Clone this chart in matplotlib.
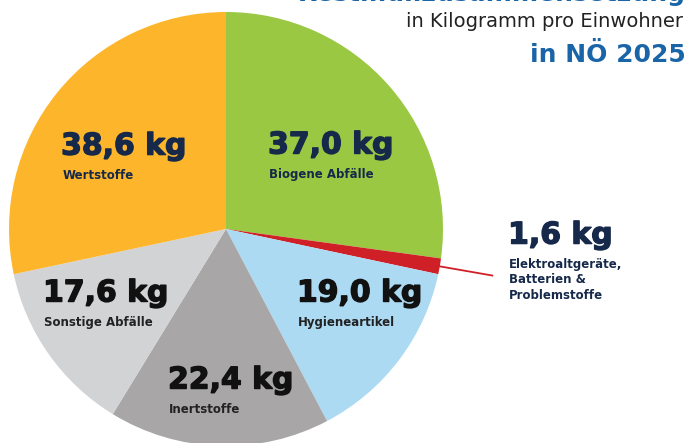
import numpy as np
import matplotlib.pyplot as plt
import matplotlib.patheffects as pe

# Restmüllzusammensetzung NÖ 2025, kg pro Einwohner
kategorien = ["Biogene Abfälle", "Elektroaltgeräte,\nBatterien &\nProblemstoffe",
              "Hygieneartikel", "Inertstoffe", "Sonstige Abfälle", "Wertstoffe"]
werte = [37.0, 1.6, 19.0, 22.4, 17.6, 38.6]
farben = ["#9bc843", "#cf2027", "#acdaf3", "#a8a6a7", "#d2d3d5", "#fdb62c"]

# Beschriftungsposition (links, Mitte der Zahl) in Datenkoordinaten
label_pos = [(0.194, 0.387), (1.30, -0.028), (0.327, -0.295),
             (-0.267, -0.696), (-0.843, -0.295), (-0.760, 0.382)]
label_farbe = ["#16294a", "#16294a", "#111111", "#111111", "#111111", "#16294a"]

fig = plt.figure(figsize=(6.91, 4.43), dpi=100)

# Torte: Mitte bei (226, 229) px, Radius 217 px
cx, cy, r = 226, 229, 217
W, H = 691, 443
ax = fig.add_axes([(cx - r) / W, (H - cy - r) / H, 2 * r / W, 2 * r / H])
wedges, _ = ax.pie(werte, colors=farben, startangle=90, counterclock=False,
                   radius=1, wedgeprops=dict(linewidth=0))
ax.set_xlim(-1, 1)
ax.set_ylim(-1, 1)
ax.axis("off")

# roter Hinweisstrich zum kleinen Segment
w = wedges[1]
mid = np.deg2rad((w.theta1 + w.theta2) / 2)
ax.plot([0.9 * np.cos(mid), 1.25 * np.cos(mid)],
        [0.9 * np.sin(mid), 1.25 * np.sin(mid)],
        color="#cf2027", lw=1.3, clip_on=False, solid_capstyle="butt")

for name, wert, (x, y), c in zip(kategorien, werte, label_pos, label_farbe):
    txt = f"{wert:.1f}".replace(".", ",") + " kg"
    t = ax.text(x, y, txt, fontsize=21.5, fontweight="bold", color=c,
                ha="left", va="center", clip_on=False)
    # etwas fetter, wie im Original
    t.set_path_effects([pe.withStroke(linewidth=1.0, foreground=c)])
    ax.text(x + 0.005, y - 0.105, name, fontsize=8.5, fontweight="bold",
            color=c if c != "#111111" else "#222222",
            ha="left", va="top", linespacing=1.25, clip_on=False)

# Titelblock rechts oben (erste Zeile ist im Original oben abgeschnitten)
fig.text(0.992, 1 - 1 / H, "Restmüllzusammensetzung", fontsize=18,
         fontweight="bold", color="#1a64a8", ha="right", va="baseline")
fig.text(0.989, 1 - 27 / H, "in Kilogramm pro Einwohner", fontsize=14,
         color="#222222", ha="right", va="baseline")
fig.text(0.992, 1 - 62 / H, "in NÖ 2025", fontsize=18,
         fontweight="bold", color="#1a64a8", ha="right", va="baseline")

fig.savefig("out.png", dpi=100)
